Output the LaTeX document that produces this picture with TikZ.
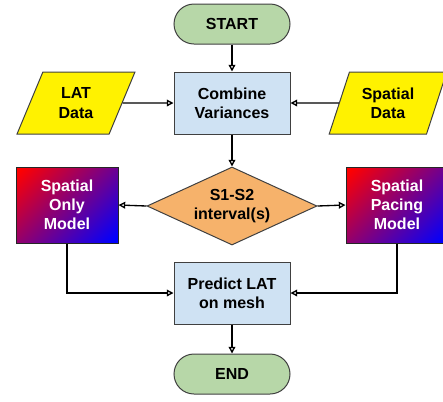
\documentclass[tikz,border=0pt]{standalone}
\usepackage{fontspec}
\setmainfont{Liberation Sans}
\usetikzlibrary{arrows.meta, positioning, shapes.geometric}

\pgfdeclarehorizontalshading{vermelhoazul}{100bp}{color(0bp)=(red); color(17bp)=(red); color(83bp)=(blue); color(100bp)=(blue)}

\tikzset{
    base/.style={draw=black!75, line width=0.75pt, align=center, inner sep=0pt,
        font=\bfseries\fontsize{12}{14.4}\selectfont},
    terminal/.style={base, fill=termgreen, rounded corners=15pt,
        minimum width=87pt, minimum height=30pt},
    processo/.style={base, fill=procblue, minimum width=87pt, minimum height=46.5pt},
    dados/.style={base, fill=yellow, trapezium, trapezium left angle=66,
        trapezium right angle=114, trapezium stretches=true,
        minimum width=88.5pt, minimum height=46.5pt},
    decisao/.style={base, fill=decorange, diamond, aspect=2.2,
        minimum width=127.5pt, minimum height=58.5pt},
    modelo/.style={base, draw=black!85, text=white, shading=vermelhoazul,
        shading angle=-45, minimum width=76.5pt, minimum height=57pt},
}
\definecolor{termgreen}{HTML}{B7D7A8}
\definecolor{procblue}{HTML}{CFE2F3}
\definecolor{decorange}{HTML}{F6B26B}

\begin{document}
\begin{tikzpicture}[x=0.75pt, y=-0.75pt, line width=1pt,
    >={Triangle[open, length=5pt, width=5pt]}]

    \useasboundingbox (0,0) rectangle (443,401);
    \clip (0,0) rectangle (443,401);

    % Inicio e fim
    \node[terminal] (start) at (232,24) {START};
    \node[terminal] (end) at (232,374) {END};

    % Entradas e combinacao
    \node[processo] (comb) at (232,103) {Combine\\Variances};
    \node[dados] (lat) at (76,103) {LAT\\Data};
    \node[dados] (spd) at (388,103) {Spatial\\Data};

    % Decisao e modelos
    \node[decisao] (s1s2) at (232,206) {S1-S2\\interval(s)};
    \node[modelo] (only) at (67,205) {Spatial\\Only\\Model};
    \node[modelo] (pace) at (397,205) {Spatial\\Pacing\\Model};

    % Predicao
    \node[processo] (pred) at (232,293) {Predict LAT\\on mesh};

    % Ligacoes
    \draw[->] (start) -- (comb);
    \draw[->] (lat.east) -- (comb.west);
    \draw[->] (spd.west) -- (comb.east);
    \draw[->] (comb) -- (s1s2);
    \draw[->] (s1s2.west) -- (only.east);
    \draw[->] (s1s2.east) -- (pace.west);
    \draw[->] (only.south) |- (pred.west);
    \draw[->] (pace.south) |- (pred.east);
    \draw[->] (pred) -- (end);

\end{tikzpicture}
\end{document}
